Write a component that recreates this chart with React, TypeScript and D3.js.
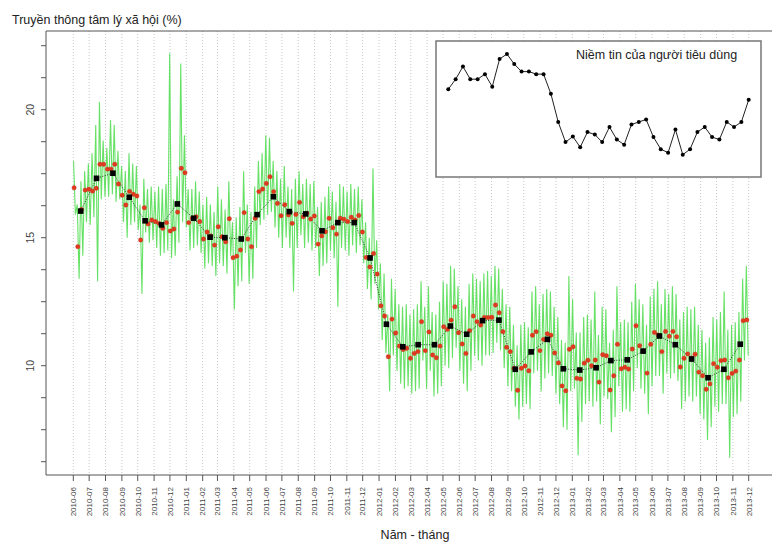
import React from "react";
import * as d3 from "d3";

// ---------- DATA ----------
const monthLabels = [
  "2010-06","2010-07","2010-08","2010-09","2010-10","2010-11","2010-12",
  "2011-01","2011-02","2011-03","2011-04","2011-05","2011-06","2011-07","2011-08","2011-09","2011-10","2011-11","2011-12",
  "2012-01","2012-02","2012-03","2012-04","2012-05","2012-06","2012-07","2012-08","2012-09","2012-10","2012-11","2012-12",
  "2013-01","2013-02","2013-03","2013-04","2013-05","2013-06","2013-07","2013-08","2013-09","2013-10","2013-11","2013-12",
];

const yTickValues = [6.25, 7.5, 8.75, 10, 11.25, 12.5, 13.75, 15, 16.25, 17.5, 18.75, 20, 21.25, 22.5];
const yTickLabels = ["", "", "", "10", "", "", "", "15", "", "", "", "20", "", ""];

// Monthly means (black squares), 2010-06 .. 2013-11
const monthlyMean = [
  16.04, 17.32, 17.52, 16.58, 15.66, 15.5, 16.32,
  15.76, 15.02, 15.0, 14.95, 15.9, 16.6, 16.02, 15.93, 15.27, 15.59, 15.59, 14.21,
  11.62, 10.74, 10.82, 10.82, 11.55, 11.23, 11.76, 11.78, 9.86, 10.54, 11.03, 9.88,
  9.83, 9.92, 10.2, 10.23, 10.57, 11.16, 10.82, 10.26, 9.53, 9.86, 10.84,
];

// Weekly means (red dots)
const weeklyMean = [
  16.95, 14.65, 16.1, 16.86, 16.89, 16.82, 16.93, 17.87, 17.87, 17.68,
  17.68, 17.87, 17.1, 16.66, 16.28, 16.81, 16.7, 16.63, 14.91, 16.17,
  15.54, 15.69, 15.63, 15.56, 15.37, 15.59, 15.26, 15.34, 16.0, 17.71,
  17.54, 15.59, 15.76, 15.82, 15.63, 14.95, 15.22, 15.07, 14.71, 15.43,
  15.04, 14.84, 15.74, 14.22, 14.28, 14.52, 15.98, 14.95, 14.65, 15.76,
  16.8, 16.9, 17.12, 17.38, 16.8, 16.34, 15.86, 16.29, 15.89, 15.56,
  15.91, 16.38, 15.82, 15.96, 15.73, 15.85, 14.75, 15.07, 15.23, 15.76,
  15.39, 15.14, 15.76, 15.72, 15.63, 15.8, 15.69, 15.87, 15.22, 14.23,
  13.86, 14.38, 13.58, 12.34, 11.94, 10.35, 11.82, 11.28, 10.77, 10.63,
  10.68, 10.29, 10.48, 10.55, 11.72, 10.59, 11.32, 10.42, 10.31, 10.77,
  11.52, 11.42, 11.78, 12.3, 11.29, 10.85, 10.48, 11.37, 11.94, 11.72,
  11.59, 11.88, 11.88, 11.89, 12.37, 12.07, 11.33, 10.72, 10.55, 9.9,
  9.04, 9.9, 9.99, 9.8, 11.19, 11.33, 10.59, 11.03, 11.25, 11.19,
  10.5, 10.11, 9.21, 9.02, 10.64, 10.74, 9.51, 9.48, 10.1, 10.21,
  10.0, 10.22, 9.36, 10.43, 10.39, 9.05, 9.61, 10.84, 9.88, 9.94,
  9.87, 10.65, 11.56, 10.78, 10.57, 9.71, 10.84, 11.3, 11.2, 10.55,
  11.34, 11.15, 11.34, 11.13, 9.95, 10.29, 10.46, 10.3, 10.45, 9.75,
  9.61, 9.08, 9.29, 10.08, 9.94, 10.2, 10.22, 9.53, 9.7, 9.79,
  10.22, 11.76, 11.79,
];

// Daily series (green), sampled as a high and a low reading each week
const dailyHigh = [
  18.0, 16.3, 17.2, 17.6, 17.9, 18.3, 19.4, 20.3, 18.8, 18.5,
  19.6, 19.4, 18.4, 17.8, 17.6, 18.3, 17.9, 17.8, 16.3, 17.3,
  16.9, 17.0, 16.8, 17.0, 16.9, 17.1, 22.2, 16.5, 17.4, 21.8,
  19.0, 16.9, 16.9, 17.2, 16.8, 16.3, 16.6, 16.3, 16.0, 17.0,
  16.5, 16.1, 17.2, 15.6, 15.8, 16.2, 17.6, 16.3, 16.0, 17.0,
  18.0, 18.3, 19.0, 18.9, 18.0, 17.6, 17.3, 17.8, 17.0, 16.9,
  17.3, 17.6, 17.1, 17.3, 17.1, 17.2, 16.2, 16.4, 16.6, 17.0,
  16.8, 16.4, 17.1, 17.0, 16.8, 17.1, 16.9, 17.0, 16.5, 15.6,
  15.0, 17.7, 14.9, 14.0, 13.6, 12.0, 13.4, 13.0, 12.4, 12.3,
  12.4, 12.0, 12.2, 12.4, 13.3, 12.3, 13.1, 12.1, 12.0, 12.5,
  13.3, 13.2, 13.9, 13.8, 13.1, 12.6, 12.3, 13.2, 13.6, 13.4,
  13.3, 13.6, 13.7, 13.5, 13.9, 13.8, 13.0, 12.4, 12.3, 11.6,
  10.8, 11.6, 11.7, 11.5, 12.9, 13.1, 12.4, 12.8, 13.0, 12.9,
  12.3, 11.9, 11.0, 10.9, 13.5, 12.6, 11.3, 11.3, 11.9, 12.0,
  11.8, 12.9, 11.2, 12.3, 12.2, 10.9, 11.4, 13.1, 11.7, 11.8,
  11.7, 12.5, 13.2, 12.6, 12.4, 11.6, 12.7, 13.0, 13.3, 12.4,
  13.0, 12.8, 13.1, 12.8, 11.8, 12.1, 12.3, 12.2, 12.3, 11.6,
  11.4, 10.9, 11.1, 11.9, 11.8, 12.1, 12.9, 11.4, 11.6, 11.7,
  12.1, 13.4, 13.9,
];
const dailyLow = [
  15.9, 13.4, 14.3, 15.6, 15.5, 15.8, 13.3, 16.5, 16.6, 16.6,
  16.7, 16.4, 16.5, 15.6, 15.0, 15.5, 15.6, 15.3, 12.8, 15.2,
  14.8, 14.9, 14.6, 14.3, 14.4, 14.5, 14.2, 14.3, 14.8, 15.6,
  15.4, 14.5, 14.6, 14.7, 14.4, 13.8, 14.0, 13.9, 13.5, 14.0,
  13.9, 13.6, 14.3, 12.2, 13.1, 13.3, 14.4, 13.2, 13.4, 14.6,
  15.5, 15.7, 15.9, 16.0, 15.4, 15.0, 14.6, 15.0, 14.6, 12.9,
  14.6, 15.1, 14.6, 14.8, 14.5, 14.6, 13.5, 13.9, 14.0, 14.5,
  14.2, 12.3, 14.6, 14.5, 14.3, 14.7, 14.4, 14.7, 14.0, 13.0,
  12.6, 13.2, 12.2, 11.0, 10.5, 9.0, 10.4, 9.8, 9.3, 9.1,
  9.2, 8.9, 9.0, 9.1, 10.2, 9.1, 9.8, 8.8, 8.9, 9.2,
  10.0, 9.9, 10.3, 10.7, 9.8, 9.3, 9.0, 9.8, 10.4, 10.2,
  10.0, 10.4, 10.4, 10.5, 10.9, 10.6, 9.9, 9.2, 9.0, 8.4,
  7.9, 8.4, 8.5, 8.3, 9.7, 9.8, 9.0, 9.5, 9.7, 9.6,
  8.9, 8.5, 7.6, 7.5, 9.0, 9.1, 6.5, 7.8, 8.5, 8.6,
  8.4, 8.6, 7.7, 8.8, 8.7, 7.4, 8.0, 9.2, 8.2, 8.3,
  8.2, 9.0, 9.9, 9.1, 8.9, 8.1, 9.2, 9.6, 9.6, 8.9,
  9.7, 9.5, 9.7, 9.4, 8.3, 8.6, 8.8, 8.6, 8.8, 8.1,
  7.9, 7.1, 7.6, 8.4, 8.2, 8.5, 8.5, 6.4, 8.0, 8.1,
  8.6, 10.2, 10.4,
];

// Inset: consumer confidence (monthly)
const confidence = [
  103.0, 105.0, 107.5, 105.0, 105.0, 106.0, 103.5, 109.0, 110.0, 108.0,
  106.5, 106.5, 106.0, 106.0, 102.1, 96.5, 92.5, 93.6, 91.5, 94.5,
  94.0, 92.5, 95.5, 93.0, 92.0, 96.0, 96.5, 97.0, 93.5, 91.1,
  90.4, 95.0, 90.0, 91.1, 94.5, 95.5, 93.5, 93.0, 96.5, 95.5,
  96.5, 100.9,
];

const yTitle = "Truyền thông tâm lý xã hội (%)";
const xTitle = "Năm - tháng";
const insetTitle = "Niềm tin của người tiêu dùng";

// ---------- LAYOUT ----------
const W = 772;
const H = 543;
const box = { left: 46, top: 31, bottom: 475, right: 800 };
const DAY = 86400000;
const t0 = Date.UTC(2010, 5, 1);
const FONT = "'Liberation Sans', Arial, sans-serif";

export default function App() {
  const x = d3.scaleUtc().domain([Date.UTC(2010, 5, 1), Date.UTC(2013, 11, 1)]).range([73.3, 748.7]);
  const y = d3.scaleLinear().domain([10, 20]).range([365.7, 109.7]);
  const monthDates = monthLabels.map((_, i) => Date.UTC(2010, 5 + i, 1));

  const greenPts: [number, number][] = [];
  dailyHigh.forEach((h, k) => {
    greenPts.push([t0 + (7 * k + 0.5) * DAY, h]);
    greenPts.push([t0 + (7 * k + 4) * DAY, dailyLow[k]]);
  });
  const line = d3.line<[number, number]>().x((d) => x(d[0])).y((d) => y(d[1]));
  const greenPath = line(greenPts) || "";

  const monthlyPts: [number, number][] = monthlyMean.map((v, i) => [Date.UTC(2010, 5 + i, 15), v]);
  const monthlyPath = line(monthlyPts) || "";

  const weeklyPts = weeklyMean.map((v, k) => [t0 + (7 * k + 1.5) * DAY, v] as [number, number]);

  // inset
  const inset = { x: 436, y: 41, w: 325, h: 136 };
  const ix = d3.scaleLinear().domain([0, confidence.length - 1]).range([448.3, 748.7]);
  const iy = d3.scaleLinear().domain([90, 110]).range([154.7, 54]);
  const insetLine = d3.line<number>().x((_, i) => ix(i)).y((d) => iy(d))(confidence) || "";

  const axisColor = "#555";

  return (
    <svg width={W} height={H} style={{ position: "absolute", left: 0, top: 0, background: "#fff" }} fontFamily={FONT}>
      <rect x={0} y={0} width={W} height={H} fill="#fff" />
      {/* grid */}
      {monthDates.map((d, i) => (
        <line key={"g" + i} x1={x(d)} x2={x(d)} y1={box.top} y2={box.bottom} stroke="#c8c8c8" strokeWidth={1} strokeDasharray="1,2" />
      ))}
      {/* daily green */}
      <path d={greenPath} fill="none" stroke="#55de55" strokeWidth={1.1} strokeOpacity={0.9} />
      {/* monthly dotted */}
      <path d={monthlyPath} fill="none" stroke="#333" strokeWidth={1} strokeDasharray="1,1.5" />
      {/* weekly red dots */}
      {weeklyPts.map((p, k) => (
        <circle key={"r" + k} cx={x(p[0])} cy={y(p[1])} r={2.2} fill="#e2381c" stroke="#c0392b" strokeWidth={0.4} />
      ))}
      {/* monthly squares */}
      {monthlyPts.map((p, i) => (
        <rect key={"s" + i} x={x(p[0]) - 2.8} y={y(p[1]) - 2.8} width={5.6} height={5.6} fill="#000" />
      ))}

      {/* box */}
      <line x1={box.left} x2={box.left} y1={box.top} y2={box.bottom} stroke={axisColor} />
      <line x1={box.left} x2={box.right} y1={box.top} y2={box.top} stroke={axisColor} />
      <line x1={box.left} x2={box.right} y1={box.bottom} y2={box.bottom} stroke={axisColor} />

      {/* y axis */}
      {yTickValues.map((v, i) => (
        <g key={"y" + i}>
          <line x1={box.left - 5} x2={box.left} y1={y(v)} y2={y(v)} stroke={axisColor} />
          {yTickLabels[i] && (
            <text transform={`translate(34,${y(v)}) rotate(-90)`} textAnchor="middle" fontSize={10.5} fill="#444">
              {yTickLabels[i]}
            </text>
          )}
        </g>
      ))}

      {/* x axis */}
      {monthDates.map((d, i) => (
        <g key={"x" + i}>
          <line x1={x(d)} x2={x(d)} y1={box.bottom} y2={box.bottom + 6} stroke={axisColor} />
          <text transform={`translate(${x(d) + 2.8},${box.bottom + 12}) rotate(-90)`} textAnchor="end" fontSize={8} fill="#444">
            {monthLabels[i]}
          </text>
        </g>
      ))}

      {/* titles */}
      <text x={12} y={24} fontSize={12.5} fill="#222">{yTitle}</text>
      <text x={415} y={539} fontSize={12.5} fill="#222" textAnchor="middle">{xTitle}</text>

      {/* inset */}
      <rect x={inset.x} y={inset.y} width={inset.w} height={inset.h} fill="#fff" stroke="#777" strokeWidth={1.5} />
      <text x={576} y={59} fontSize={12.5} fill="#222">{insetTitle}</text>
      <path d={insetLine} fill="none" stroke="#222" strokeWidth={1} />
      {confidence.map((v, i) => (
        <circle key={"c" + i} cx={ix(i)} cy={iy(v)} r={2} fill="#000" />
      ))}
    </svg>
  );
}
